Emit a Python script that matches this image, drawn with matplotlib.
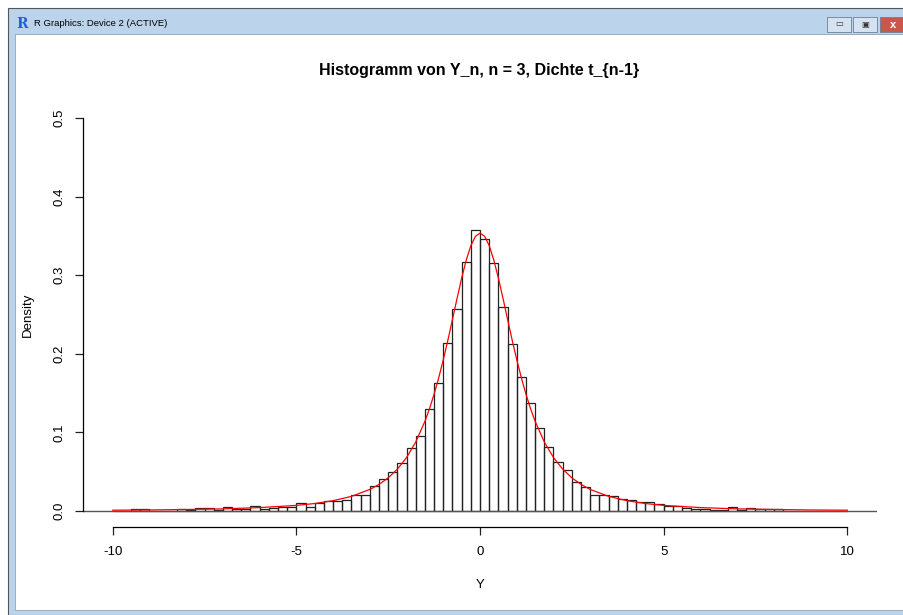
import numpy as np
import matplotlib
matplotlib.use('Agg')
import matplotlib.pyplot as plt
from matplotlib.patches import Rectangle

plt.rcParams['font.family'] = ['Liberation Sans', 'DejaVu Sans']

# histogram: bins of width 0.25 from -10 to 10, density
bin_edges = np.arange(-10, 10.001, 0.25)
density = [
    0.0, 0.0, 0.0025, 0.0025, 0.0, 0.0, 0.0, 0.0025, 0.0013, 0.0038,
    0.0038, 0.0013, 0.0051, 0.0028, 0.0028, 0.0064, 0.0025, 0.0038, 0.0049, 0.0055,
    0.0096, 0.0055, 0.0096, 0.0130, 0.0130, 0.0142, 0.0207, 0.0207, 0.0316, 0.041,
    0.049, 0.0615, 0.080, 0.0954, 0.130, 0.163, 0.214, 0.257, 0.317, 0.358,
    0.346, 0.315, 0.260, 0.2125, 0.171, 0.137, 0.106, 0.082, 0.062, 0.052,
    0.037, 0.030, 0.020, 0.020, 0.019, 0.0148, 0.0142, 0.0119, 0.0108, 0.0085,
    0.0068, 0.0068, 0.0038, 0.0025, 0.0030, 0.0017, 0.0017, 0.0047, 0.0017, 0.0034,
    0.0020, 0.0020, 0.0020, 0.0, 0.0, 0.0, 0.0, 0.0, 0.0, 0.0,
]

# red density curve (t with n-1 = 2 df)
curve_x = [-10, -9, -8, -7, -6, -5, -4.5, -4, -3.5, -3, -2.75, -2.5, -2.25, -2,
           -1.75, -1.5, -1.375, -1.25, -1.125, -1, -0.875, -0.75, -0.625, -0.5,
           -0.375, -0.25, -0.125, 0, 0.125, 0.25, 0.375, 0.5, 0.625, 0.75, 0.875,
           1, 1.125, 1.25, 1.375, 1.5, 1.75, 2, 2.25, 2.5, 2.75, 3, 3.5, 4, 4.5,
           5, 6, 7, 8, 9, 10]
curve_y = [0.0010, 0.0013, 0.0019, 0.0027, 0.0043, 0.0071, 0.0095, 0.0131, 0.0186,
           0.0274, 0.0338, 0.0422, 0.0533, 0.0680, 0.0878, 0.1141, 0.1303, 0.1487,
           0.1695, 0.1925, 0.2174, 0.2438, 0.2706, 0.2963, 0.3193, 0.3376, 0.3495,
           0.3536, 0.3495, 0.3376, 0.3193, 0.2963, 0.2706, 0.2438, 0.2174, 0.1925,
           0.1695, 0.1487, 0.1303, 0.1141, 0.0878, 0.0680, 0.0533, 0.0422, 0.0338,
           0.0274, 0.0186, 0.0131, 0.0095, 0.0071, 0.0043, 0.0027, 0.0019, 0.0013,
           0.0010]

x_ticks = [-10, -5, 0, 5, 10]
y_ticks = [0.0, 0.1, 0.2, 0.3, 0.4, 0.5]

W, H = 904, 615
fig = plt.figure(figsize=(W / 100, H / 100), dpi=100)

# window frame of the R graphics device
fig.patches.append(Rectangle((8 / W, 0), 1 - 8 / W, 1 - 8 / H, transform=fig.transFigure,
                             facecolor='#bcd3ec', edgecolor='#555555', lw=0.8, zorder=-10))
fig.patches.append(Rectangle((15 / W, 5 / H), 1 - 15 / W, 1 - 39 / H, transform=fig.transFigure,
                             facecolor='white', edgecolor='#8aa4c0', lw=0.6, zorder=-9))
fig.text(22 / W, 1 - 24 / H, 'R', color='#2a5bd7', fontsize=10, fontweight='bold',
         family='DejaVu Serif', ha='center', va='center')
fig.text(34 / W, 1 - 24 / H, 'R Graphics: Device 2 (ACTIVE)', fontsize=6.8,
         ha='left', va='center', color='black')
for x0, col in [(827, '#d5e3f1'), (853, '#d5e3f1'), (880, '#c9584b')]:
    fig.patches.append(Rectangle((x0 / W, 1 - 32 / H), 24 / W, 15 / H,
                                 transform=fig.transFigure, facecolor=col,
                                 edgecolor='#6e7f93', lw=0.6, zorder=-8))
fig.text(839 / W, 1 - 25 / H, '▭', fontsize=6, ha='center', va='center', color='#333333')
fig.text(865 / W, 1 - 25 / H, '▣', fontsize=6, ha='center', va='center', color='#333333')
fig.text(893 / W, 1 - 25 / H, 'x', fontsize=8, fontweight='bold', ha='center', va='center',
         color='white')

ax = fig.add_axes([83 / W, 1 - 526.7 / H, (876.7 - 83) / W, (526.7 - 102.3) / H])
ax.set_zorder(5)
ax.patch.set_alpha(0)
ax.set_xlim(-10.81, 10.80)
ax.set_ylim(-0.02, 0.52)

ax.bar(bin_edges[:-1], density, width=0.25, align='edge', fill=False,
       edgecolor='#222222', linewidth=0.9)
ax.axhline(0, color='#555555', lw=1.0)
ax.plot(curve_x, curve_y, color='red', lw=0.9)

for s in ['top', 'right']:
    ax.spines[s].set_visible(False)
ax.spines['left'].set_bounds(0, 0.5)
ax.spines['bottom'].set_bounds(-10, 10)
ax.spines['left'].set_linewidth(0.9)
ax.spines['bottom'].set_linewidth(0.9)
ax.set_xticks(x_ticks)
ax.set_xticklabels([str(v) for v in x_ticks])
ax.set_yticks(y_ticks)
ax.set_yticklabels(['%.1f' % v for v in y_ticks], rotation=90, va='center')
ax.tick_params(axis='both', direction='out', length=5.8, width=0.9, labelsize=9.5,
               color='#222222')
ax.tick_params(axis='x', pad=8)
ax.tick_params(axis='y', pad=7)

fig.text(479 / W, 1 - 70 / H, 'Histogramm von Y_n, n = 3, Dichte t_{n-1}',
         fontsize=11.5, fontweight='bold', ha='center', va='center')
fig.text(480 / W, 1 - 585 / H, 'Y', fontsize=9.5, ha='center', va='center')
fig.text(28 / W, 1 - 315 / H, 'Density', fontsize=9.5, rotation=90, ha='center', va='center')

fig.savefig('out.png', dpi=100)
